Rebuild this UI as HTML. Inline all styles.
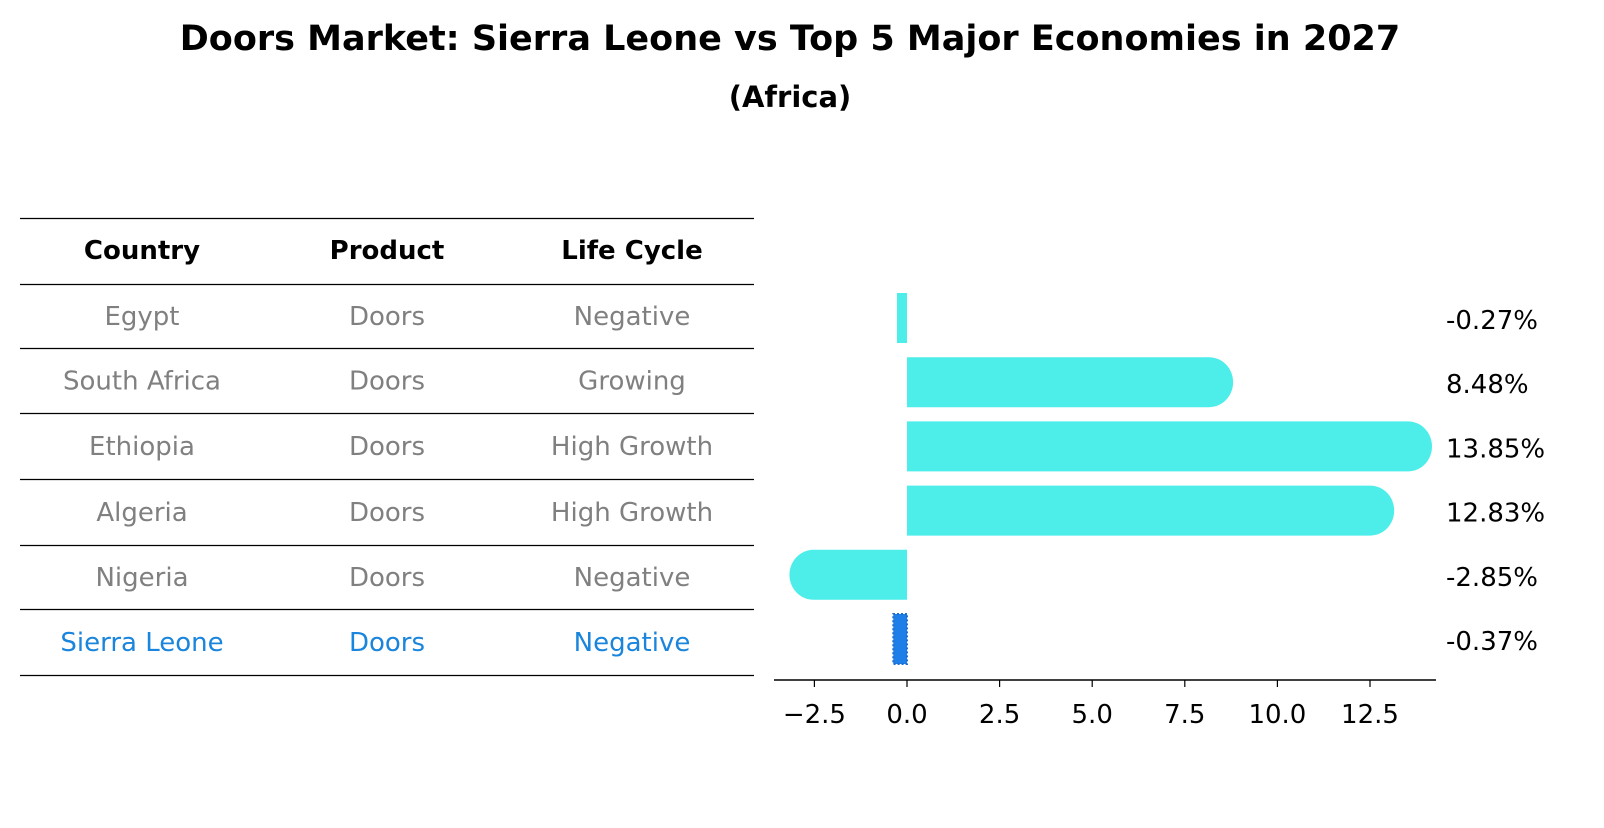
<!DOCTYPE html>
<html><head><meta charset="utf-8"><style>
body{margin:0;background:#fff;font-family:"Liberation Sans","DejaVu Sans",sans-serif;}
</style></head><body>
<svg width="1604" height="823" viewBox="0 0 1604 823" style="font-family:'DejaVu Sans','Liberation Sans',sans-serif">
<text x="790" y="50" text-anchor="middle" font-size="35" font-weight="bold">Doors Market: Sierra Leone vs Top 5 Major Economies in 2027</text>
<text x="790" y="107" text-anchor="middle" font-size="29" font-weight="bold">(Africa)</text>
<g id="table"></g>
<g id="bars"></g>
</svg>
<script>
const countries=["Egypt","South Africa","Ethiopia","Algeria","Nigeria","Sierra Leone"];
const products=["Doors","Doors","Doors","Doors","Doors","Doors"];
const lifecycle=["Negative","Growing","High Growth","High Growth","Negative","Negative"];
const values=[-0.27,8.48,13.85,12.83,-2.85,-0.37];
const labels=["-0.27%","8.48%","13.85%","12.83%","-2.85%","-0.37%"];
const ticks=[-2.5,0,2.5,5,7.5,10,12.5];
const tickLabels=["\u22122.5","0.0","2.5","5.0","7.5","10.0","12.5"];
const NS="http://www.w3.org/2000/svg";
function mk(t,a,p,txt){const e=document.createElementNS(NS,t);for(const k in a)e.setAttribute(k,a[k]);if(txt!==undefined)e.textContent=txt;p.appendChild(e);return e;}
const tb=document.getElementById('table');
const lines=[218,284,348,413,479,545,609,675];
lines.forEach((y,i)=>{const l=mk('line',{x1:20,x2:754,y1:y+0.5,y2:y+0.5,stroke:'#000','stroke-width':1.3},tb);

});
const cx=[142,387,632];
["Country","Product","Life Cycle"].forEach((h,i)=>{const t=mk('text',{x:cx[i],y:259,'text-anchor':'middle','font-size':26,'font-weight':'bold'},tb,h);

});
countries.forEach((c,r)=>{const y=(lines[r+1]+lines[r+2])/2+9;const col=r===5?'#1a85dc':'#808080';
[c,products[r],lifecycle[r]].forEach((v,i)=>{const t=mk('text',{x:cx[i],y:y,'text-anchor':'middle','font-size':26,fill:col},tb,v);

});});
const g=document.getElementById('bars');
const x0=907,ppu=37.04;
const X=v=>x0+v*ppu;
const rowY=i=>318+i*64.2;
const h=50;
mk('line',{x1:774,x2:1436,y1:680,y2:680,stroke:'#000','stroke-width':1.5},g);
ticks.forEach((t,i)=>{const x=X(t);const l=mk('line',{x1:x,x2:x,y1:680,y2:687,stroke:'#000','stroke-width':1.2},g);


const tx=mk('text',{x:x,y:723,'text-anchor':'middle','font-size':26},g,tickLabels[i]);

});
values.forEach((v,i)=>{const yc=rowY(i),y1=yc-h/2,y2=yc+h/2;const xe=X(v);let d;
const last=i===5;const small=Math.abs(v)<1;
if(small){d=`M${x0} ${y1} L${xe} ${y1} L${xe} ${y2} L${x0} ${y2} Z`;}
else if(v>=0){const r=12;d=`M${x0} ${y1} L${xe-r} ${y1} A${r+12} ${h/2} 0 0 1 ${xe-r} ${y2} L${x0} ${y2} Z`;}
else{const r=12;d=`M${x0} ${y1} L${xe+r} ${y1} A${r+12} ${h/2} 0 0 0 ${xe+r} ${y2} L${x0} ${y2} Z`;}
const p=mk('path',{d:d,fill:last?'#1f7fe8':'#4deeea'},g);
if(last){p.setAttribute('stroke','#1a6fd0');p.setAttribute('stroke-dasharray','2 2');p.setAttribute('stroke-width','2');}


const t=mk('text',{x:1446,y:yc+11,'font-size':26},g,labels[i]);

});
</script>
</body></html>
